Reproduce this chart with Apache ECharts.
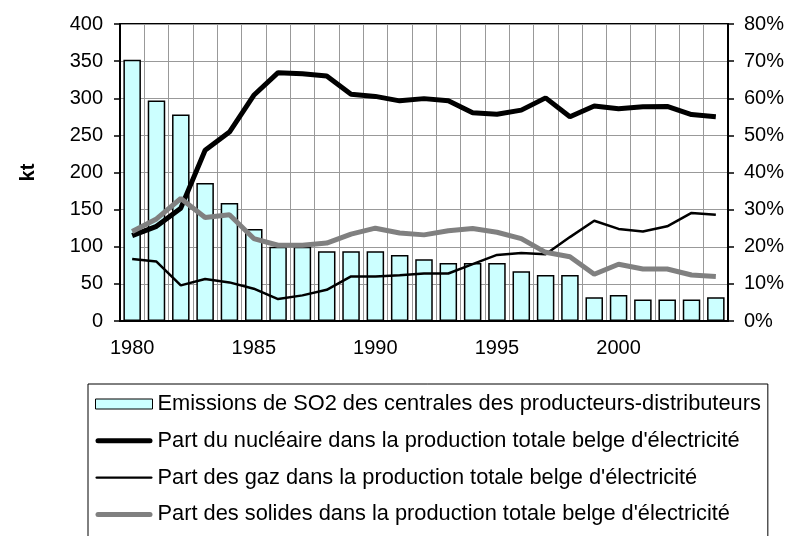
<!DOCTYPE html>
<html>
<head>
<meta charset="utf-8">
<script src="https://cdn.jsdelivr.net/npm/echarts@6/dist/echarts.min.js"></script>
<style>
    html, body {margin: 0; padding: 0; background: #fff;}
    #echart {width: 790px; height: 536px;}
</style>
</head>
<body>
<div id="echart"></div>
<script>
var years = ['1980', '1981', '1982', '1983', '1984', '1985', '1986', '1987', '1988', '1989',
    '1990', '1991', '1992', '1993', '1994', '1995', '1996', '1997', '1998', '1999',
    '2000', '2001', '2002', '2003', '2004'];

// kt
var so2 = [352, 297, 278, 186, 159, 124, 100, 100, 94, 94,
    94, 89, 83, 78, 78, 78, 67, 62, 62, 32,
    35, 29, 29, 29, 32];

// % de la production totale
var nucleaire = [23, 25.5, 30.4, 46, 50.9, 60.8, 66.9, 66.6, 66, 61.1,
    60.5, 59.3, 59.9, 59.3, 56.1, 55.7, 56.8, 60.1, 55, 57.9,
    57.2, 57.7, 57.8, 55.6, 55];
var gaz = [16.7, 16, 9.6, 11.3, 10.4, 8.7, 5.9, 6.9, 8.4, 12,
    12, 12.3, 12.8, 12.8, 15.3, 17.8, 18.3, 18, 22.6, 27,
    24.8, 24.1, 25.5, 29.1, 28.6];
var solides = [24.1, 27.5, 33, 27.9, 28.6, 22.2, 20.4, 20.4, 21, 23.4,
    25, 23.7, 23.2, 24.3, 24.9, 23.9, 22.2, 18.5, 17.3, 12.6,
    15.3, 14, 14, 12.4, 12];

var names = [
    'Emissions de SO2 des centrales des producteurs-distributeurs',
    'Part du nucléaire dans la production totale belge d\'électricité',
    'Part des gaz dans la production totale belge d\'électricité',
    'Part des solides dans la production totale belge d\'électricité'
];

var font = '"Liberation Sans", Arial, sans-serif';
// icones de légende : simples traits (le symbole rond par défaut des séries line est gênant)
var thickLine = 'path://M2.5,0L54.5,0A2.5,2.5,0,0,1,54.5,5L2.5,5A2.5,2.5,0,0,1,2.5,0Z';
var thinLine = 'path://M1.25,0L112.75,0A2.5,2.5,0,0,1,112.75,5L1.25,5A2.5,2.5,0,0,1,1.25,0Z';

var myChart = echarts.init(document.getElementById('echart'));

var option = {
    animation: false,
    textStyle: {fontFamily: font, color: '#000'},
    grid: {
        left: 120, right: 62, top: 24, bottom: 215,
        show: true, borderColor: '#000', borderWidth: 2
    },
    legend: {
        orient: 'vertical',
        left: 88, top: 384,
        height: 170,
        padding: [9, 7, 14, 7],
        itemGap: 14.8,
        itemWidth: 57,
        itemHeight: 10,
        borderColor: '#000',
        borderWidth: 1,
        textStyle: {fontSize: 21.8, lineHeight: 21, color: '#000', fontFamily: font},
        data: [
            {name: names[0], icon: 'rect', itemStyle: {color: '#CCFFFF', borderColor: '#000', borderWidth: 1}},
            {name: names[1], icon: thickLine, itemStyle: {color: '#000', borderWidth: 0}},
            {name: names[2], icon: thinLine, itemStyle: {color: '#000', borderWidth: 0}},
            {name: names[3], icon: thickLine, itemStyle: {color: '#808080', borderWidth: 0}}
        ]
    },
    xAxis: {
        type: 'category',
        data: years,
        boundaryGap: true,
        axisLine: {lineStyle: {color: '#000', width: 2}},
        axisTick: {show: false},
        axisLabel: {interval: 4, margin: 17, fontSize: 20, color: '#000'},
        splitLine: {show: true, interval: 0, lineStyle: {color: '#999', width: 1}}
    },
    yAxis: [{
        type: 'value',
        min: 0, max: 400, interval: 50,
        name: 'kt',
        nameLocation: 'middle',
        nameGap: 82,
        nameRotate: 90,
        nameTextStyle: {fontSize: 20, fontWeight: 'bold', color: '#000'},
        axisLine: {show: true, lineStyle: {color: '#000', width: 2}},
        axisTick: {show: true, length: 6, lineStyle: {color: '#000', width: 1.5}},
        axisLabel: {margin: 17, fontSize: 20, color: '#000'},
        splitLine: {show: true, lineStyle: {color: '#999', width: 1}}
    }, {
        type: 'value',
        min: 0, max: 80, interval: 10,
        position: 'right',
        axisLine: {show: true, lineStyle: {color: '#000', width: 2}},
        axisTick: {show: true, length: 6, lineStyle: {color: '#000', width: 1.5}},
        axisLabel: {margin: 16, fontSize: 20, color: '#000', formatter: '{value}%'},
        splitLine: {show: false}
    }],
    series: [
        {
            name: names[0],
            type: 'bar',
            data: so2,
            barCategoryGap: '28%',
            itemStyle: {color: '#CCFFFF', borderColor: '#000', borderWidth: 1.5}
        },
        {
            name: names[1],
            type: 'line',
            yAxisIndex: 1,
            data: nucleaire,
            symbol: 'none',
            lineStyle: {color: '#000', width: 5},
            itemStyle: {color: '#000'}
        },
        {
            name: names[2],
            type: 'line',
            yAxisIndex: 1,
            data: gaz,
            symbol: 'none',
            lineStyle: {color: '#000', width: 2.5},
            itemStyle: {color: '#000'}
        },
        {
            name: names[3],
            type: 'line',
            yAxisIndex: 1,
            data: solides,
            symbol: 'none',
            lineStyle: {color: '#808080', width: 5},
            itemStyle: {color: '#808080'}
        }
    ]
};
myChart.setOption(option);
</script>
</body>
</html>
